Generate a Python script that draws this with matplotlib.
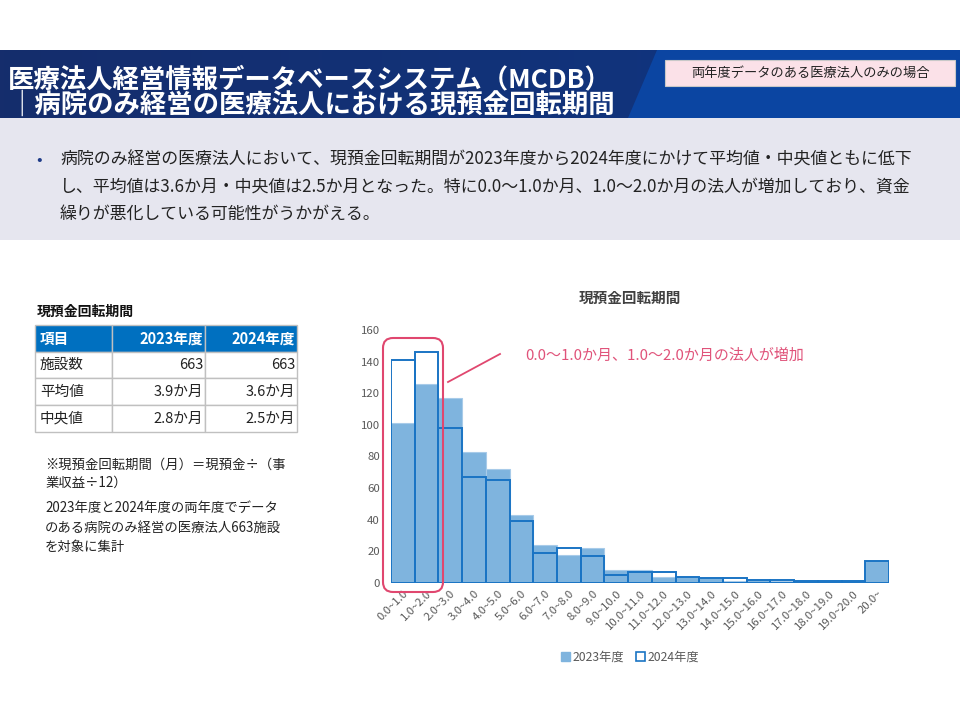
import matplotlib
matplotlib.use("Agg")
import matplotlib.pyplot as plt
import numpy as np
from matplotlib.patches import Rectangle, FancyBboxPatch, Polygon, Patch

plt.rcParams['font.family'] = ['Noto Sans CJK JP', 'DejaVu Sans']

# データ
bins = ['0.0~1.0', '1.0~2.0', '2.0~3.0', '3.0~4.0', '4.0~5.0', '5.0~6.0', '6.0~7.0',
        '7.0~8.0', '8.0~9.0', '9.0~10.0', '10.0~11.0', '11.0~12.0', '12.0~13.0',
        '13.0~14.0', '14.0~15.0', '15.0~16.0', '16.0~17.0', '17.0~18.0', '18.0~19.0',
        '19.0~20.0', '20.0~']
v2023 = [101, 126, 117, 83, 72, 43, 24, 18, 22, 8, 8, 4, 4, 3, 1, 2, 1, 1, 1, 1, 14]
v2024 = [141, 146, 98, 67, 65, 39, 19, 22, 17, 5, 7, 7, 4, 3, 3, 2, 2, 1, 1, 1, 14]

tbl_head = ['項目', '2023年度', '2024年度']
tbl_rows = [['施設数', '663', '663'],
            ['平均値', '3.9か月', '3.6か月'],
            ['中央値', '2.8か月', '2.5か月']]

title1 = '医療法人経営情報データベースシステム（MCDB）'
title2 = '｜病院のみ経営の医療法人における現預金回転期間'
tag = '両年度データのある医療法人のみの場合'
bullet = ['病院のみ経営の医療法人において、現預金回転期間が2023年度から2024年度にかけて平均値・中央値ともに低下',
          'し、平均値は3.6か月・中央値は2.5か月となった。特に0.0～1.0か月、1.0～2.0か月の法人が増加しており、資金',
          '繰りが悪化している可能性がうかがえる。']
notes1 = ['※現預金回転期間（月）＝現預金÷（事', '業収益÷12）']
notes2 = ['2023年度と2024年度の両年度でデータ', 'のある病院のみ経営の医療法人663施設', 'を対象に集計']

c23 = '#7fb4de'
c24 = '#1a74c4'
gray = '#595959'

fig = plt.figure(figsize=(9.6, 7.2), dpi=100)

# 背景（ピクセル座標）
bg = fig.add_axes([0, 0, 1, 1], zorder=0)
bg.set_xlim(0, 960)
bg.set_ylim(720, 0)
bg.axis('off')

grad = np.linspace(0, 1, 256).reshape(1, -1)
cmap = matplotlib.colors.LinearSegmentedColormap.from_list('hd', ['#152d6c', '#0f3784'])
bg.imshow(grad, extent=(0, 960, 118, 50), cmap=cmap, aspect='auto', zorder=1)
bg.add_patch(Polygon([(657, 50), (960, 50), (960, 118), (628, 118)], closed=True,
                     facecolor='#0b45a2', edgecolor='none', zorder=2))
bg.text(8, 80, title1, color='white', fontsize=19, fontweight='bold', va='center', zorder=3)
bg.text(8, 105, title2, color='white', fontsize=19, fontweight='bold', va='center', zorder=3)
bg.add_patch(Rectangle((665, 60), 290, 26, facecolor='#fbe1e8', edgecolor='#c8c8c8', lw=0.8, zorder=3))
bg.text(810, 73, tag, fontsize=9.5, color='#222222', ha='center', va='center', zorder=4)

bg.add_patch(Rectangle((0, 118), 960, 122, facecolor='#e6e6ef', edgecolor='none', zorder=1))
bg.text(36, 160, '•', fontsize=12, color='#1f3c88', va='center', zorder=3)
for i, line in enumerate(bullet):
    bg.text(60, 160 + 27 * i, line, fontsize=12.2, color='#222222', va='center', zorder=3)

# 表
bg.text(37, 312, '現預金回転期間', fontsize=10, fontweight='bold', color='#111111', va='center')
col_x = [35, 112, 205, 297]
row_y = [325, 352, 378, 405, 432]
for j in range(3):
    bg.add_patch(Rectangle((col_x[j], row_y[0]), col_x[j + 1] - col_x[j], row_y[1] - row_y[0],
                           facecolor='#0070c0', edgecolor='#c0c0c0', lw=1, zorder=2))
    if j == 0:
        bg.text(col_x[j] + 5, (row_y[0] + row_y[1]) / 2, tbl_head[j], color='white',
                fontsize=10.5, fontweight='bold', va='center', zorder=3)
    else:
        bg.text(col_x[j + 1] - 2, (row_y[0] + row_y[1]) / 2, tbl_head[j], color='white',
                fontsize=10.5, fontweight='bold', va='center', ha='right', zorder=3)
for i, row in enumerate(tbl_rows):
    y0, y1 = row_y[i + 1], row_y[i + 2]
    for j in range(3):
        bg.add_patch(Rectangle((col_x[j], y0), col_x[j + 1] - col_x[j], y1 - y0,
                               facecolor='white', edgecolor='#c0c0c0', lw=1, zorder=2))
        if j == 0:
            bg.text(col_x[j] + 5, (y0 + y1) / 2, row[j], fontsize=10.5, color='#222222',
                    va='center', zorder=3)
        else:
            bg.text(col_x[j + 1] - 2, (y0 + y1) / 2, row[j], fontsize=10.5, color='#222222',
                    va='center', ha='right', zorder=3)

for i, line in enumerate(notes1):
    bg.text(45, 465 + 18 * i, line, fontsize=9.6, color='#222222', va='center')
for i, line in enumerate(notes2):
    bg.text(45, 508 + 19.5 * i, line, fontsize=9.6, color='#222222', va='center')

# グラフ
ax = fig.add_axes([391 / 960, 1 - 583 / 720, 498 / 960, 253 / 720], zorder=1)
ax.patch.set_visible(False)
x = np.arange(len(bins))
ax.bar(x, v2023, width=1, color=c23, edgecolor='#a8cbe9', lw=0.8, label='2023年度')
ax.bar(x, v2024, width=1, facecolor='none', edgecolor=c24, lw=1.4, label='2024年度')
ax.set_xlim(-0.5, len(bins) - 0.5)
ax.set_ylim(0, 160)
ax.set_yticks(range(0, 161, 20))
ax.set_xticks(x)
ax.set_xticklabels(bins, rotation=45, ha='right', va='top', rotation_mode='anchor')
ax.tick_params(axis='both', length=0, colors=gray, labelsize=8.2)
ax.tick_params(axis='y', pad=8, labelsize=8.2)
ax.tick_params(axis='x', pad=4)
for s in ax.spines.values():
    s.set_visible(False)
fig.text(630 / 960, 1 - 298 / 720, '現預金回転期間', fontsize=10.5, fontweight='bold',
         color='#404040', ha='center', va='center')

handles = [Patch(facecolor=c23, edgecolor=c23, label='2023年度'),
           Patch(facecolor='white', edgecolor=c24, lw=1.2, label='2024年度')]
fig.legend(handles=handles, loc='center', bbox_to_anchor=(630 / 960, 1 - 657 / 720),
           ncol=2, frameon=False, fontsize=8.8, handlelength=0.7, handleheight=0.7,
           handletextpad=0.2, columnspacing=1.0, labelcolor=gray)

# 注釈
top = fig.add_axes([0, 0, 1, 1], zorder=2)
top.patch.set_visible(False)
top.set_xlim(0, 960)
top.set_ylim(720, 0)
top.axis('off')
top.add_patch(FancyBboxPatch((383, 338), 60, 254, boxstyle='round,pad=0,rounding_size=10',
                             facecolor='none', edgecolor='#e0476f', lw=1.5))
top.plot([448, 500], [382, 354], color='#e0476f', lw=1.3)
top.text(525, 356, '0.0〜1.0か月、1.0〜2.0か月の法人が増加', fontsize=10.8, color='#e0537a',
         va='center')

fig.savefig('out.png', dpi=100)
